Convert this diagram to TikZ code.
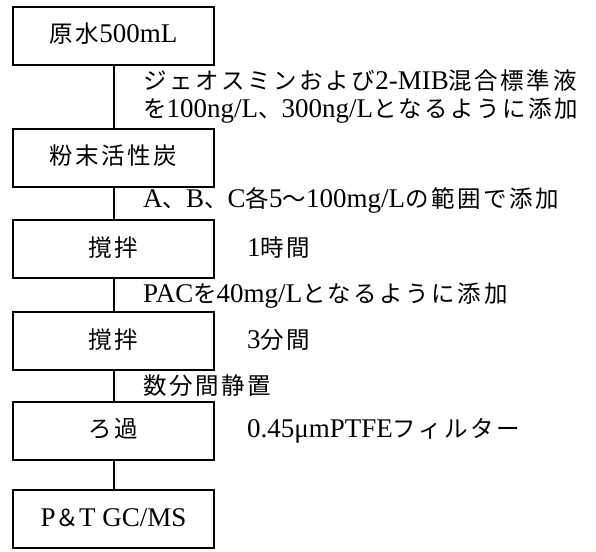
\documentclass[tikz,border=0pt]{standalone}
\usepackage{fontspec}
\setmainfont{Liberation Serif}
\newfontfamily\jpfont[LetterSpace=11,Scale=0.87]{Noto Sans CJK JP}
\newcommand\J[1]{{\jpfont #1}}
\begin{document}
\begin{tikzpicture}[x=1pt,y=-1pt,
  every node/.style={font=\fontsize{27}{32}\selectfont, inner sep=0pt, text height=19pt, text depth=5pt},
  stepbox/.style={draw, line width=2pt, minimum width=201pt, minimum height=58pt},
  lbl/.style={anchor=west},
  conn/.style={line width=2pt}]
\useasboundingbox (0,0) rectangle (596,551);
\node[stepbox] (b1) at (113.5,36) {\J{原水}500mL};
\node[stepbox] (b2) at (113.5,157.5) {\J{粉末活性炭}};
\node[stepbox] (b3) at (113.5,249) {\J{撹拌}};
\node[stepbox] (b4) at (113.5,341) {\J{撹拌}};
\node[stepbox] (b5) at (113.5,430.5) {\J{ろ過}};
\node[stepbox] (b6) at (113.5,519) {P\J{＆}T GC/MS};
\draw[conn] (b1) -- (b2);
\draw[conn] (b2) -- (b3);
\draw[conn] (b3) -- (b4);
\draw[conn] (b4) -- (b5);
\draw[conn] (b5) -- (b6);
\node[lbl] (t1) at (143,82) {\J{ジェオスミンおよび}2-MIB\J{混合標準液}};
\node[lbl] (t2) at (143,110) {\J{を}100ng/L\J{、}300ng/L\J{となるように添加}};
\node[lbl] (t3) at (143,200) {A\J{、}B\J{、}C\J{各}5\J{～}100mg/L\J{の範囲で添加}};
\node[lbl] (t4) at (247,249) {1\J{時間}};
\node[lbl] (t5) at (143,295) {PAC\J{を}40mg/L\J{となるように添加}};
\node[lbl] (t6) at (247,341) {3\J{分間}};
\node[lbl] (t7) at (143,387) {\J{数分間静置}};
\node[lbl] (t8) at (247,430.5) {0.45μmPTFE\J{フィルター}};
\end{tikzpicture}
\end{document}
